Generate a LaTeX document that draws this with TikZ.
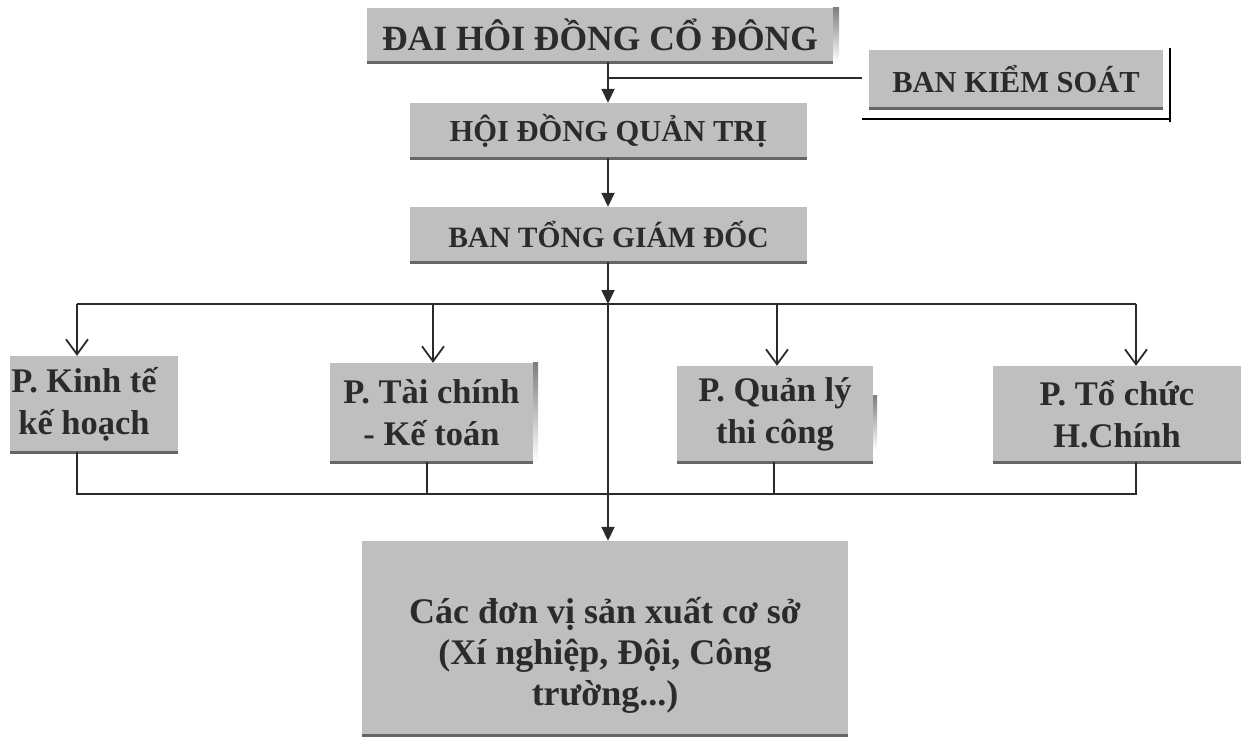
\documentclass[tikz,border=0pt]{standalone}
\usepackage{fontspec}
\setmainfont{Liberation Serif}
\usetikzlibrary{arrows.meta}
\definecolor{boxfill}{HTML}{BFBFBF}
\definecolor{ink}{HTML}{2B2B2B}
\definecolor{shade}{HTML}{666666}
\begin{document}
\begin{tikzpicture}[x=1pt,y=-1pt,
  orgbox/.style={fill=boxfill, text=ink, inner sep=0pt, align=center},
  boxtext/.style={text=ink, inner sep=0pt, align=center},
  link/.style={draw=ink, line width=1.8pt},
  solidtip/.style={-{Triangle[length=14pt,width=13pt]}},
  opentip/.style={-{Straight Barb[length=15pt,width=22pt]}},
  shadowline/.style={draw=shade, line width=3pt}]
\useasboundingbox[fill=white] (0,0) rectangle (1246,741);

% boxes
\node[orgbox, minimum width=466pt, minimum height=54pt, font=\bfseries\fontsize{35.5}{40}\selectfont] (dhd) at (600,35) {ĐAI HÔI ĐỒNG CỔ ĐÔNG};
\node[orgbox, minimum width=397pt, minimum height=55pt, font=\bfseries\fontsize{30.5}{36}\selectfont] (hdqt) at (608.5,130.5) {HỘI ĐỒNG QUẢN TRỊ};
\node[orgbox, minimum width=397pt, minimum height=55pt, font=\bfseries\fontsize{29.5}{36}\selectfont] (btgd) at (608.5,234.5) {BAN TỔNG GIÁM ĐỐC};
\node[orgbox, minimum width=294pt, minimum height=58pt, font=\bfseries\fontsize{30.5}{36}\selectfont] (bks) at (1016,79) {BAN KIỂM SOÁT};
\node[orgbox, minimum width=168pt, minimum height=96pt,
  label={[boxtext, xshift=-10pt, font=\bfseries\fontsize{34.5}{42}\selectfont]center:P. Kinh tế\\kế hoạch}] (kt) at (94,404) {};
\node[orgbox, minimum width=203pt, minimum height=99pt, font=\bfseries\fontsize{34.5}{42}\selectfont] (tc) at (431.5,412.5) {P. Tài chính\\- Kế toán};
\node[orgbox, minimum width=196pt, minimum height=96pt, font=\bfseries\fontsize{34.5}{42}\selectfont] (ql) at (775,414) {P. Quản lý\\thi công};
\node[orgbox, minimum width=248pt, minimum height=96pt, font=\bfseries\fontsize{34.5}{42}\selectfont] (tch) at (1117,414) {P. Tổ chức\\H.Chính};
\node[orgbox, minimum width=486pt, minimum height=194pt,
  label={[boxtext, yshift=-17pt, font=\bfseries\fontsize{36}{41}\selectfont]center:Các đơn vị sản xuất cơ sở\\(Xí nghiệp, Đội, Công\\trường...)}] (big) at (605,638) {};

% shadows
\foreach \b in {dhd,hdqt,btgd,bks,kt,tc,ql,tch,big}
  \draw[shadowline] (\b.south west) -- (\b.south east);
\fill[shade] (dhd.north east) rectangle ([xshift=6pt]dhd.south east);
\fill[shade] (tc.north east) rectangle ([xshift=5pt]tc.south east);
\fill[shade] ([yshift=-30pt]ql.north east) rectangle ([xshift=4pt,yshift=12pt]ql.south east);
\draw[shade, line width=2.5pt] ([xshift=-7pt,yshift=-11pt]bks.south west) -- ([xshift=7pt,yshift=-11pt]bks.south east);
\draw[shade, line width=2pt] ([xshift=7pt,yshift=2pt]bks.north east) -- ([xshift=7pt,yshift=-14pt]bks.south east);

% coordinates
\coordinate (sp) at (608,0);
\coordinate (bk) at (608,78);
\coordinate (bke) at (862,78);
\coordinate (jt) at (608,304);
\coordinate (ta) at (77,304);
\coordinate (tb) at (433,304);
\coordinate (tcq) at (777,304);
\coordinate (td) at (1136,304);
\coordinate (ba) at (77,494);
\coordinate (bb) at (427,494);
\coordinate (bc) at (774,494);
\coordinate (bd) at (1136,494);

% connectors
\draw[link, solidtip] (dhd.south -| sp) -- (hdqt.north -| sp);
\draw[link] (bk) -- (bke);
\draw[link, solidtip] (hdqt.south -| sp) -- (btgd.north -| sp);
\draw[link, solidtip] (btgd.south -| sp) -- (jt);
\draw[link] (ta) -- (td);
\draw[link, opentip] (ta) -- (kt.north -| ta);
\draw[link, opentip] (tb) -- (tc.north -| tb);
\draw[link, opentip] (tcq) -- (ql.north -| tcq);
\draw[link, opentip] (td) -- (tch.north -| td);
\draw[link] (kt.south -| ba) -- (ba) -- (bd) -- (tch.south -| bd);
\draw[link] (tc.south -| bb) -- (bb);
\draw[link] (ql.south -| bc) -- (bc);
\draw[link, solidtip] (jt) -- (big.north -| sp);
\end{tikzpicture}
\end{document}
